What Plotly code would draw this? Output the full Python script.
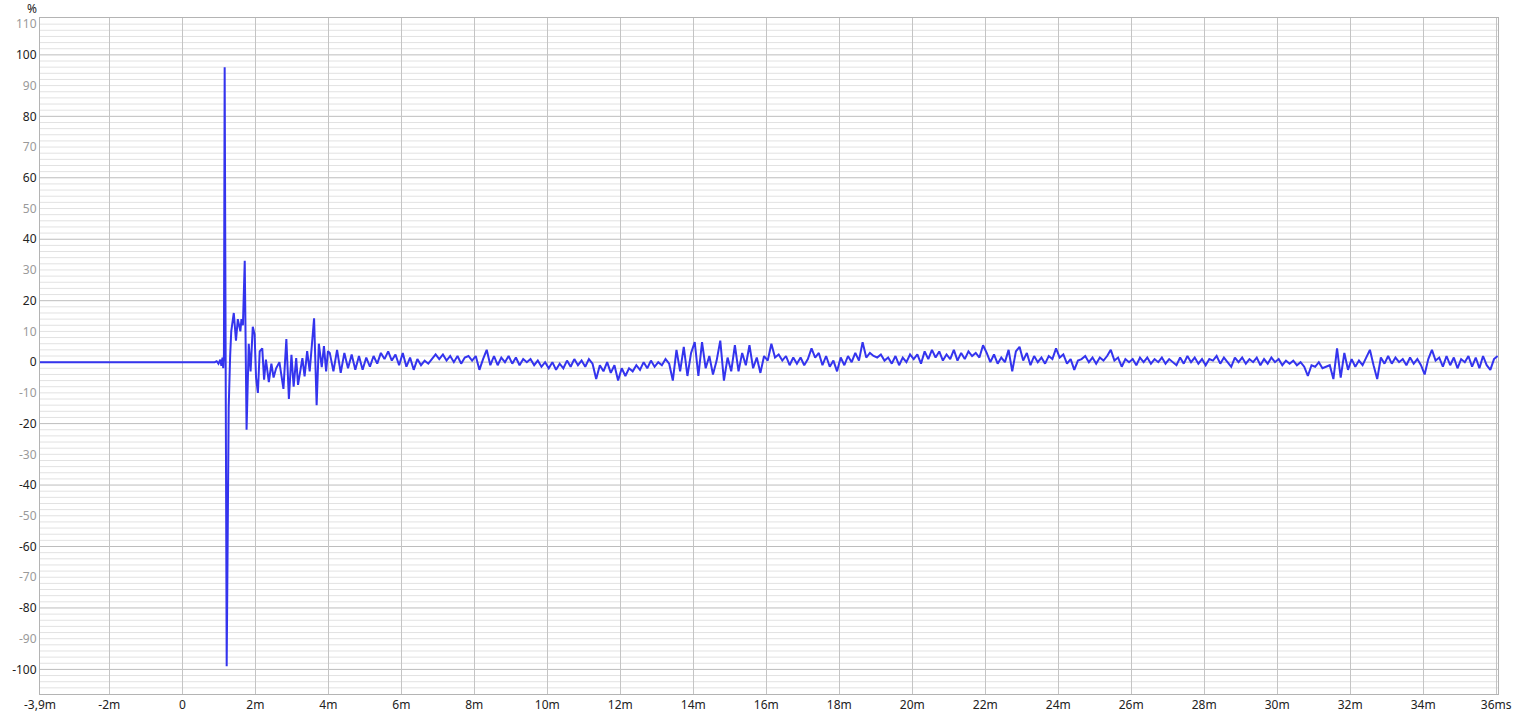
import numpy as np
import plotly.graph_objects as go

# ---- data ----
# early part: irregular time points (ms) and amplitude (%)
early_t = [-3.9, 0.89, 0.94, 0.99, 1.04, 1.07, 1.10, 1.12, 1.14, 1.16, 1.215, 1.24, 1.27, 1.31, 1.34,
           1.41, 1.47, 1.52, 1.59, 1.62, 1.66, 1.71, 1.76, 1.82, 1.87, 1.93, 1.98, 2.02, 2.07,
           2.12, 2.19, 2.24, 2.29, 2.37, 2.44, 2.50, 2.57, 2.66, 2.77, 2.85, 2.92, 2.99, 3.05,
           3.12, 3.17, 3.29, 3.35, 3.42, 3.49, 3.61, 3.68, 3.74, 3.82, 3.88, 3.94, 3.99]
early_v = [0, 0, 0.3, -0.5, 0.8, -1.2, 1.5, -2, 2.5, 96, -99, -40, -15, 2, 10,
           16, 7, 14, 10, 14, 12, 33, -22, 6, -3, 11.5, 9, -5, -10,
           3.5, 4.5, -5.7, 0.8, -6.5, -0.5, -5, -2, 0, -8.7, 7.5, -12, 2.4, -8,
           1.3, -7.4, 1.3, -4.6, 3.6, -3, 14.3, -14, 6, -1.6, 5.2, -3, 3.6]

# later part: sampled every 0.1 ms from 4.04 ms to 36.04 ms
late_start_ms = 4.04
late_step_ms = 0.1
late_v = [
    3, -3, 4, -3.5, 3, -2, 2.5, -2.5, 2, -2.5,
    1.5, -1.5, 2, -0.5, 3, 1, 3.5, 0.5, 2.5, -1,
    3, -1.5, 1.5, -2.5, 1, -1, 0.5, -0.5, 1, 2.5,
    1, 2.5, 0.5, 2, 0, 2, -0.5, 1.5, 2, 0.5,
    2, -2.5, 1, 4, -1, 2, -1, 1.5, 0, 2,
    -0.5, 1.5, -1, 1, 0, 1, -1, 0.5, -1.5, 0,
    -2, 0, -2.5, -0.5, -2, 0.5, -1.5, 1, -1, 0.5,
    -1.5, 1, -0.5, -5.5, -1, -3, 0, -3.5, -1, -6,
    -2, -4.5, -2, -3, -1, -2.5, 0, -2, 0.5, -1.5,
    0, -1, 1, -0.5, -6, 4, -3, 5, -4.5, 3,
    6.5, -4.5, 6.5, -2, 2, -4, 0.5, 7, -6, 1.5,
    -3, 5.5, -3, 3, -1, 5.5, -2, 1.5, -3.5, 2,
    0.5, 6, 1.5, 2.5, 0.5, 2, -1, 1.5, -0.5, 1.5,
    -1, 1, 4.5, 1.5, 3, -1, 2, -1.5, 0.5, -3,
    1.5, -1, 2, 0, 3, 0.5, 6.5, 1.5, 3, 2,
    1.5, 2.5, 0.5, 1.5, -0.5, 2, -1, 1.5, 0, 2.5,
    1, 2.5, -0.5, 3.5, 1, 4, 1.5, 3.5, 0.5, 2.5,
    1, 4, 0.5, 3, 1, 3.5, 2, 3, 1.5, 5.5,
    3, 0, 2.5, -0.5, 1.5, 0, 4, -3, 3.5, 5,
    0.5, 3, -1, 2, 0, 1.5, -0.5, 2, 1, 4.5,
    1.5, 2.5, -0.5, 1, -2.5, 0.5, 1, 2, 0, 1.5,
    -0.5, 1.5, 0.5, 2, 4, 0.5, 1.5, -1.5, 1, 0,
    1, -1, 1.5, 0, 1.5, -0.5, 1, 0, 1.5, -0.5,
    1, 0, -1, 1.5, -0.5, 2, 0, 1.5, -0.5, 1,
    -1, 1, 0.5, 2, -0.5, 1.5, 0, -1.5, 1.5, 0,
    1.5, -0.5, 1, 0, 1.5, -1, 1, -0.5, 1.5, 0,
    1, -1, 0.5, -0.5, 0.5, -1, 0, -1.5, -4.5, -1,
    -1.5, 0, -2, -1.5, -1, -5.5, 4.5, -5, 3, -2.5,
    1, -1.5, 0.5, -1, 1.5, 4, -1, -5.5, 1.5, -0.5,
    2, -0.5, 1.5, 0, 1, -1, 1.5, -0.5, 1, -1,
    -4, 1, 4, 0.5, 1.5, -1.5, 2, -1, 1.5, -2,
    1, 0, 2, -1.5, 1.5, -2, 2, -1, -2.5, 1,
    2,
]

x_tick_vals = [-3.9, -2, 0, 2, 4, 6, 8, 10, 12, 14, 16, 18, 20, 22, 24, 26, 28, 30, 32, 34, 36]
x_tick_text = ["-3,9m", "-2m", "0", "2m", "4m", "6m", "8m", "10m", "12m", "14m", "16m", "18m",
               "20m", "22m", "24m", "26m", "28m", "30m", "32m", "34m", "36ms"]
y_tick_vals = list(range(-100, 111, 10))

# ---- build ----
late_t = [late_start_ms + i * late_step_ms for i in range(len(late_v))]
t_all = early_t + late_t
v_all = early_v + late_v

Y_MIN, Y_MAX = -108, 112
X_MIN, X_MAX = -3.9, 36.05

fig = go.Figure()
fig.add_trace(go.Scatter(x=t_all, y=v_all, mode="lines",
                         line=dict(color="#3434ee", width=2), hoverinfo="skip",
                         showlegend=False))

y_text = []
for v in y_tick_vals:
    if v % 20 == 0:
        y_text.append('<span style="color:#222222">%d</span>' % v)
    else:
        y_text.append('<span style="color:#9a9a9a">%d</span>' % v)

shapes = []
for yv in range(-108, 113, 2):
    if yv in (Y_MIN, Y_MAX):
        continue
    major = (yv % 20 == 0)
    shapes.append(dict(type="line", xref="paper", yref="y", x0=0, x1=1, y0=yv, y1=yv,
                       layer="below",
                       line=dict(color="#bdbdbd" if major else "#e2e2e2", width=1)))

fig.update_layout(
    width=1519, height=719,
    margin=dict(l=40, r=21, t=18, b=25, autoexpand=False),
    paper_bgcolor="white", plot_bgcolor="white",
    font=dict(family="Noto Sans, Open Sans, sans-serif", size=12, color="#222222"),
    shapes=shapes,
    xaxis=dict(range=[X_MIN, X_MAX], tickmode="array", tickvals=x_tick_vals, ticktext=x_tick_text,
               showgrid=True, gridcolor="#c4c4c4", gridwidth=1, zeroline=False,
               showline=True, linecolor="#b4b4b4", linewidth=1, mirror=True,
               ticks="", tickfont=dict(size=12, color="#222222"), automargin=False),
    yaxis=dict(range=[Y_MIN, Y_MAX], tickmode="array", tickvals=y_tick_vals, ticktext=y_text,
               showgrid=False, zeroline=False,
               showline=True, linecolor="#b4b4b4", linewidth=1, mirror=True,
               ticks="", tickfont=dict(size=12), automargin=False),
    annotations=[dict(text="%", xref="paper", yref="paper", x=0, y=1, xanchor="right", yanchor="middle",
                      xshift=-1, yshift=10, showarrow=False, font=dict(size=12, color="#222222"))],
)

fig.write_html("out.html", config={"displayModeBar": False},
               post_script="document.body.style.margin='0';document.body.style.overflow='hidden';")
